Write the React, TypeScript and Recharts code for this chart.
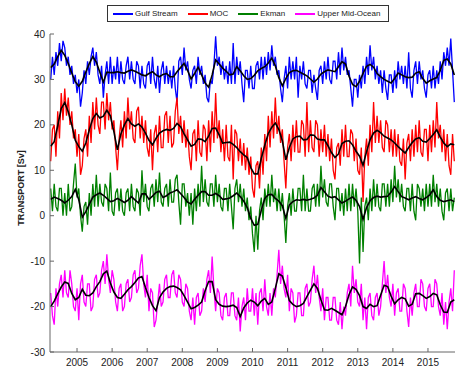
import React from "react";
import { LineChart, Line, XAxis, YAxis } from "recharts";

// 18-day samples starting in spring 2004; the smoothed curves use every other sample time
const T0 = 2004.25;
const DT = 0.05;

const YEAR_TICKS = [2005, 2006, 2007, 2008, 2009, 2010, 2011, 2012, 2013, 2014, 2015];
const SV_TICKS = [-30, -20, -10, 0, 10, 20, 30, 40];

const GULF_STREAM = [
  30, 35, 31, 36, 33, 38, 34, 38.5, 37, 33, 35, 31, 33, 29, 31, 27, 30, 24, 27, 32,
  29, 34, 31, 35, 37, 33, 36, 31, 29, 33, 26, 31, 34, 29, 35, 29, 33, 30, 35, 29,
  34, 30, 29, 33, 35, 30, 34, 30, 29, 34, 33, 28, 33, 29, 28, 33, 34, 29, 35, 30,
  28, 33, 27, 32, 34, 29, 33, 29, 32, 28, 33, 28, 25, 34, 35, 31, 37, 32, 34, 30,
  28, 32, 33, 29, 35, 31, 33, 29, 31, 26, 25, 30, 29, 33, 39.5, 33, 35, 31, 34, 30,
  33, 29, 34, 29, 38, 29, 35, 31, 34, 29, 25, 32, 32, 28, 33, 28, 28, 33, 34, 30,
  35, 30, 35, 31, 36, 32, 37.5, 33, 35, 31, 32, 28, 25, 30, 33, 28, 35, 30, 34, 30,
  35, 26, 33, 30, 34, 29, 28, 32, 32, 27, 31, 28, 25.5, 32, 33, 29, 34, 30, 35, 30,
  29, 34, 34, 30, 36, 31, 37, 32, 35, 31, 32, 28, 24, 30, 30, 26, 31, 28, 33, 29,
  35, 31, 37.5, 32, 35, 30, 33, 29, 32, 27, 32, 28, 25.5, 31, 31, 27, 32, 28, 34, 30,
  33, 29, 33, 28, 36, 28, 26, 32, 34, 29, 34, 30, 32, 28, 26, 31, 32, 28, 33, 28,
  32, 29, 34, 30, 36, 33, 37, 33, 39, 32,
  25,
];

const MOC = [
  12, 19, 20, 13, 23, 17, 27, 21, 28, 22, 26, 20, 23, 17, 19, 13, 18, 9, 11, 17,
  19, 13, 22, 16, 25, 19, 26, 20, 18, 25, 25, 19, 27, 21, 25, 19, 21, 15, 10, 17,
  21, 15, 23, 17, 26, 19, 23, 17, 16, 23, 24, 17, 22, 16, 21, 15, 13, 19, 10, 18,
  20, 14, 22, 15, 15, 22, 23, 16, 22, 15, 16, 23, 26, 18, 22, 16, 21, 15, 19, 13,
  10, 18, 19, 12, 21, 14, 13, 20, 19, 12, 21, 14, 23, 16, 27, 17, 21, 14, 19, 12,
  20, 13, 12, 20, 8, 19, 18, 12, 17, 11, 16, 10, 15, 9, 13, 6, 4, 11, 12, 6,
  15, 9, 18, 12, 22, 15, 23, 17, 26, 18, 22, 16, 19, 12, 6, 15, 18, 12, 20, 14,
  21, 14, 14, 21, 20, 13, 25, 14, 21, 15, 14, 21, 20, 13, 19, 14, 20, 13, 18, 12,
  17, 10, 8, 15, 16, 11, 19, 13, 20, 13, 13, 19, 18, 12, 17, 10, 9, 15, 3, 13,
  17, 11, 20, 14, 25, 16, 22, 16, 21, 15, 14, 21, 20, 14, 19, 13, 19, 13, 18, 12,
  11, 17, 8, 16, 18, 12, 19, 13, 20, 14, 21, 14, 13, 19, 19, 12, 20, 14, 21, 15,
  25, 17, 20, 14, 19, 12, 18, 11, 9, 18,
  12,
];

const EKMAN = [
  6, 1, 7, 2, 1, 6, 6, 0, 5, 0, 7, 1, 2, 7, 11.5, 4, 6, 0, -3.5, 2,
  3, -2, 5, 0, 7, 2, 9, 2, 7, 3, 2, 7, 6, 1, 9.5, 1, 0, 5, 6, 1,
  6, 1, 0, 5, 6, 1, 7, 2, 1, 6, 5, 0, 10, 3, 7, 2, 1, 6, 7, 2,
  8, 3, 9.5, 3, 2, 6, 7, 2, 8, 3, 3, 8, 9, 3, -2, 7, 7, 2, 5, 0,
  5, -2, 6, 1, 7, 2, 11, 3, 8, 3, 2, 7, 7, 2, 9, 3, 7, 2, 1, 6,
  6, 1, 7, 2, -3, 6, 8, 3, 7, 2, 6, 1, 4, -1, 2, -4, -8, 0, -7.5, 1,
  4, -1, 6, 2, 7, 2, 9, 3, 6, 1, 6, 1, 5, 0, -6, 2, 5, 0, 6, 1,
  1, 6, 6, 1, 9, 1, 6, 1, 1, 6, 7, 2, 7, 2, 11, 4, 8, 3, 2, 7,
  7, 2, -1, 6, 6, 1, 5, 0, 6, 1, 7, 1, 7, 2, 6, 1, -10.5, 4, -8, 2,
  4, -1, 6, 1, 8, 2, 7, 2, 1, 7, 7, 2, 7, 2, 8, 3, 11, 4, 8, 3,
  7, 2, 1, 6, 6, 1, 7, 1, -1, 7, 6, 2, 6, 1, 7, 2, 7, 2, 9, 3,
  7, 2, 6, 1, -1, 5, 6, 1, 6, 1,
  4,
];

const UPPER_MID_OCEAN = [
  -17, -22, -24, -16, -20, -15, -13, -18, -12, -17, -18, -12, -15, -20, -21, -16, -23, -15, -13, -19,
  -20, -15, -15, -21, -20, -14, -13, -18, -17, -12, -10, -15, -8.5, -14, -17, -12, -14, -19, -21, -16,
  -15, -21, -20, -15, -14, -19, -18, -13, -12, -17, -16, -11, -8.5, -15, -18, -13, -21, -16, -17, -24.5,
  -23, -19, -15, -20, -19, -14, -13, -18, -18, -13, -12, -17, -18, -13, -14, -19, -20, -15, -16, -21,
  -23, -18, -24, -18, -17, -22, -21, -16, -19, -14, -12, -17, -9, -16, -21, -16, -17, -22, -23, -18,
  -17, -22, -22, -17, -17, -22, -23, -18, -25.5, -20, -18, -23, -16, -21, -21, -16, -22, -17, -24, -17,
  -16, -21, -14, -20, -22, -17, -22, -16, -18, -13, -7.5, -15, -11, -16, -18, -13, -21, -16, -17, -23.5,
  -22, -17, -17, -22, -22, -16, -15, -20, -19, -14, -11, -17, -13, -18, -21, -16, -23, -18, -18, -23,
  -23, -18, -18, -23, -24, -19, -25, -20, -22, -17, -15, -20, -11, -17, -14, -19, -20, -15, -23, -18,
  -25, -18, -17, -22, -23, -18, -17, -22, -20, -15, -10, -17, -13, -18, -20, -15, -22, -17, -16, -21,
  -21, -15, -16, -21, -24.5, -18, -22, -17, -15, -20, -20, -14, -15, -20, -21, -16, -15, -20, -20, -14,
  -15, -20, -22, -17, -24, -19, -25, -19, -16, -21,
  -12,
];

const GULF_STREAM_SMOOTH = [
  32.6, 33.4, 35.0, 36.4, 35.3, 33.5, 31.4, 29.5, 28.5, 29.6,
  31.6, 33.5, 35.0, 33.8, 31.6, 29.4, 31.6, 31.5, 31.5, 31.7,
  31.5, 31.4, 31.8, 32.1, 31.8, 31.4, 31.0, 30.8, 31.3, 31.7,
  31.0, 30.6, 31.1, 31.3, 30.6, 30.6, 31.7, 32.6, 33.5, 32.0,
  30.1, 31.3, 32.7, 31.0, 29.2, 28.3, 31.0, 34.3, 33.4, 32.5,
  31.8, 31.0, 31.2, 32.8, 31.9, 30.8, 30.0, 30.2, 30.9, 31.9,
  32.4, 32.8, 33.6, 34.7, 33.0, 30.4, 28.6, 30.2, 31.5, 31.9,
  32.0, 31.6, 31.2, 30.8, 30.1, 29.4, 30.1, 31.2, 31.7, 32.1,
  31.9, 31.7, 32.8, 33.9, 33.4, 30.7, 28.9, 28.4, 29.6, 31.3,
  32.9, 33.3, 32.7, 31.3, 30.6, 30.0, 29.6, 29.2, 30.2, 31.4,
  31.0, 30.6, 30.4, 30.5, 31.4, 31.7, 30.2, 29.2, 29.7, 30.1,
  30.4, 32.0, 34.2, 34.5, 33.4, 31.0,
];

const MOC_SMOOTH = [
  15.3, 16.3, 19.8, 23.6, 24.9, 22.9, 20.0, 16.6, 15.2, 14.2,
  16.0, 18.9, 21.4, 22.5, 21.5, 21.9, 23.2, 22.0, 18.5, 14.5,
  18.0, 20.0, 21.4, 20.2, 19.7, 20.2, 19.5, 18.2, 16.6, 15.6,
  17.0, 18.2, 18.7, 19.0, 18.8, 19.2, 20.3, 19.6, 18.0, 16.7,
  15.3, 15.7, 16.9, 16.8, 16.3, 17.5, 19.2, 19.3, 17.8, 16.0,
  16.1, 16.2, 15.7, 15.0, 14.1, 13.4, 12.8, 10.6, 9.2, 9.2,
  12.6, 15.5, 18.1, 19.5, 20.4, 19.0, 16.5, 12.3, 15.0, 16.9,
  17.4, 17.5, 16.7, 16.8, 17.8, 17.7, 16.9, 16.7, 16.7, 15.4,
  13.9, 12.8, 13.6, 15.9, 16.4, 16.5, 15.6, 14.2, 13.1, 11.1,
  14.1, 16.7, 18.2, 18.8, 18.3, 17.5, 17.1, 16.7, 16.0, 15.2,
  14.5, 13.8, 15.0, 16.1, 16.9, 17.2, 16.4, 16.2, 17.0, 17.9,
  18.9, 17.3, 16.0, 15.2, 15.8, 15.6,
];

const EKMAN_SMOOTH = [
  3.6, 4.1, 3.8, 3.4, 2.8, 3.4, 4.2, 5.8, 3.5, -0.3,
  0.9, 2.5, 4.1, 4.6, 5.0, 4.5, 3.8, 3.1, 3.3, 3.8,
  3.4, 2.9, 3.4, 4.2, 3.5, 2.8, 4.8, 4.8, 3.6, 4.3,
  5.1, 5.4, 4.0, 4.4, 5.0, 5.3, 5.7, 4.9, 4.0, 3.0,
  2.6, 3.6, 4.5, 5.3, 5.3, 4.5, 4.5, 4.9, 4.4, 3.6,
  3.7, 3.9, 4.4, 5.0, 4.2, 3.2, 1.8, -0.6, -2.1, -1.9,
  1.2, 3.8, 4.6, 4.7, 3.8, 3.2, 2.2, -0.6, 2.4, 3.1,
  3.5, 3.4, 3.6, 3.4, 3.6, 3.9, 4.5, 6.2, 5.3, 4.3,
  4.0, 4.2, 3.5, 2.8, 3.2, 3.7, 4.1, 3.4, 2.0, -0.8,
  1.8, 3.3, 4.0, 4.3, 4.1, 4.2, 4.3, 5.2, 6.4, 5.3,
  4.2, 3.9, 3.5, 3.9, 4.2, 3.8, 3.5, 4.0, 4.6, 5.7,
  4.2, 3.4, 3.1, 3.3, 3.5, 3.1,
];

const UPPER_MID_OCEAN_SMOOTH = [
  -20.0, -18.8, -17.2, -15.7, -14.6, -14.9, -17.1, -18.5, -18.0, -16.2,
  -17.5, -17.6, -17.0, -15.6, -14.5, -12.8, -12.2, -14.8, -16.8, -18.0,
  -18.2, -17.3, -16.3, -15.6, -14.7, -13.7, -13.4, -15.8, -18.0, -19.8,
  -20.9, -18.0, -16.8, -16.0, -15.6, -15.5, -15.8, -16.3, -17.6, -19.0,
  -20.5, -20.2, -19.7, -19.0, -16.5, -14.5, -14.5, -18.5, -19.5, -19.9,
  -20.0, -19.9, -19.7, -20.2, -22.2, -20.3, -19.2, -18.6, -19.0, -19.8,
  -18.8, -18.2, -19.5, -19.0, -16.0, -12.8, -13.3, -15.8, -18.7, -19.5,
  -20.0, -19.8, -19.3, -17.8, -16.4, -15.0, -16.0, -18.5, -20.7, -20.8,
  -20.4, -20.8, -21.3, -21.8, -20.0, -17.4, -15.7, -16.2, -17.6, -20.0,
  -20.4, -19.5, -20.0, -19.8, -17.5, -15.3, -15.6, -17.7, -19.4, -18.5,
  -18.0, -18.3, -19.9, -19.5, -17.2, -17.1, -17.6, -18.2, -17.8, -17.1,
  -17.4, -19.6, -21.2, -21.3, -19.0, -18.5,
];

const SERIES = [
  { key: "gs", name: "Gulf Stream", color: "#0000ff" },
  { key: "moc", name: "MOC", color: "#ff0000" },
  { key: "ek", name: "Ekman", color: "#008000" },
  { key: "umo", name: "Upper Mid-Ocean", color: "#ff00ff" },
];

const rows = GULF_STREAM.map((gs, i) => {
  const k = i / 2;
  const even = i % 2 === 0;
  return {
    t: +(T0 + i * DT).toFixed(2),
    gs,
    moc: MOC[i],
    ek: EKMAN[i],
    umo: UPPER_MID_OCEAN[i],
    gsS: even ? GULF_STREAM_SMOOTH[k] : null,
    mocS: even ? MOC_SMOOTH[k] : null,
    ekS: even ? EKMAN_SMOOTH[k] : null,
    umoS: even ? UPPER_MID_OCEAN_SMOOTH[k] : null,
  };
});

const FONT = '"Liberation Sans", Arial, sans-serif';
const AXIS = "#666";
const TXT = "#222";

const BottomTick = ({ x, y, payload }: any) => (
  <g>
    <line x1={x} x2={x} y1={y} y2={y - 4} stroke={AXIS} />
    <text x={x} y={y + 14} textAnchor="middle" fontSize={10} fill={TXT} fontFamily={FONT}>
      {payload.value}
    </text>
  </g>
);

const TopTick = ({ x, y }: any) => <line x1={x} x2={x} y1={y} y2={y + 4} stroke={AXIS} />;

const LeftTick = ({ x, y, payload }: any) => (
  <g>
    <line x1={x} x2={x + 4} y1={y} y2={y} stroke={AXIS} />
    <text x={x - 5} y={y + 3.5} textAnchor="end" fontSize={10} fill={TXT} fontFamily={FONT}>
      {payload.value}
    </text>
  </g>
);

const RightTick = ({ x, y }: any) => <line x1={x} x2={x - 4} y1={y} y2={y} stroke={AXIS} />;

const TransportLegend = () => (
  <div
    style={{
      position: "absolute",
      left: 107,
      top: 5,
      width: 280,
      height: 15,
      border: "1px solid #333",
      background: "#fff",
      display: "flex",
      alignItems: "center",
      fontFamily: FONT,
      fontSize: 8,
      color: TXT,
    }}
  >
    {SERIES.map((s, i) => (
      <div key={s.key} style={{ display: "flex", alignItems: "center", marginLeft: i === 0 ? 5 : 10 }}>
        <div style={{ width: 20, height: 2, background: s.color, marginRight: 2 }} />
        <span>{s.name}</span>
      </div>
    ))}
  </div>
);

export default function App() {
  return (
    <div style={{ position: "absolute", left: 0, top: 0, width: 461, height: 375, background: "#fff" }}>
      <LineChart width={461} height={375} data={rows} margin={{ top: 34, right: 6, bottom: 0, left: 20 }}>
        <XAxis
          dataKey="t"
          type="number"
          domain={[2004.23, 2015.77]}
          ticks={YEAR_TICKS}
          interval={0}
          allowDataOverflow
          height={23}
          tickSize={0}
          tickMargin={0}
          tick={BottomTick}
          stroke={AXIS}
        />
        <XAxis
          xAxisId="top"
          orientation="top"
          dataKey="t"
          type="number"
          domain={[2004.23, 2015.77]}
          ticks={YEAR_TICKS}
          interval={0}
          allowDataOverflow
          height={0}
          tickSize={0}
          tickMargin={0}
          tick={TopTick}
          stroke={AXIS}
        />
        <YAxis
          type="number"
          domain={[-30, 40]}
          ticks={SV_TICKS}
          interval={0}
          allowDataOverflow
          width={30}
          tickSize={0}
          tickMargin={0}
          tick={LeftTick}
          stroke={AXIS}
        />
        <YAxis
          yAxisId="right"
          orientation="right"
          type="number"
          domain={[-30, 40]}
          ticks={SV_TICKS}
          interval={0}
          allowDataOverflow
          width={0}
          tickSize={0}
          tickMargin={0}
          tick={RightTick}
          stroke={AXIS}
        />
        {SERIES.map((s) => [
          <Line
            key={s.key}
            dataKey={s.key}
            stroke={s.color}
            strokeWidth={1.3}
            dot={false}
            isAnimationActive={false}
          />,
          <Line
            key={s.key + "S"}
            dataKey={s.key + "S"}
            stroke="#000"
            strokeWidth={1.6}
            dot={false}
            connectNulls
            isAnimationActive={false}
          />,
        ])}
      </LineChart>
      <svg style={{ position: "absolute", left: 0, top: 0 }} width={40} height={375}>
        <text
          x={0}
          y={0}
          transform="translate(24,188) rotate(-90)"
          textAnchor="middle"
          fontSize={9}
          fontWeight="bold"
          fill={TXT}
          fontFamily={FONT}
        >
          TRANSPORT [Sv]
        </text>
      </svg>
      <TransportLegend />
    </div>
  );
}
